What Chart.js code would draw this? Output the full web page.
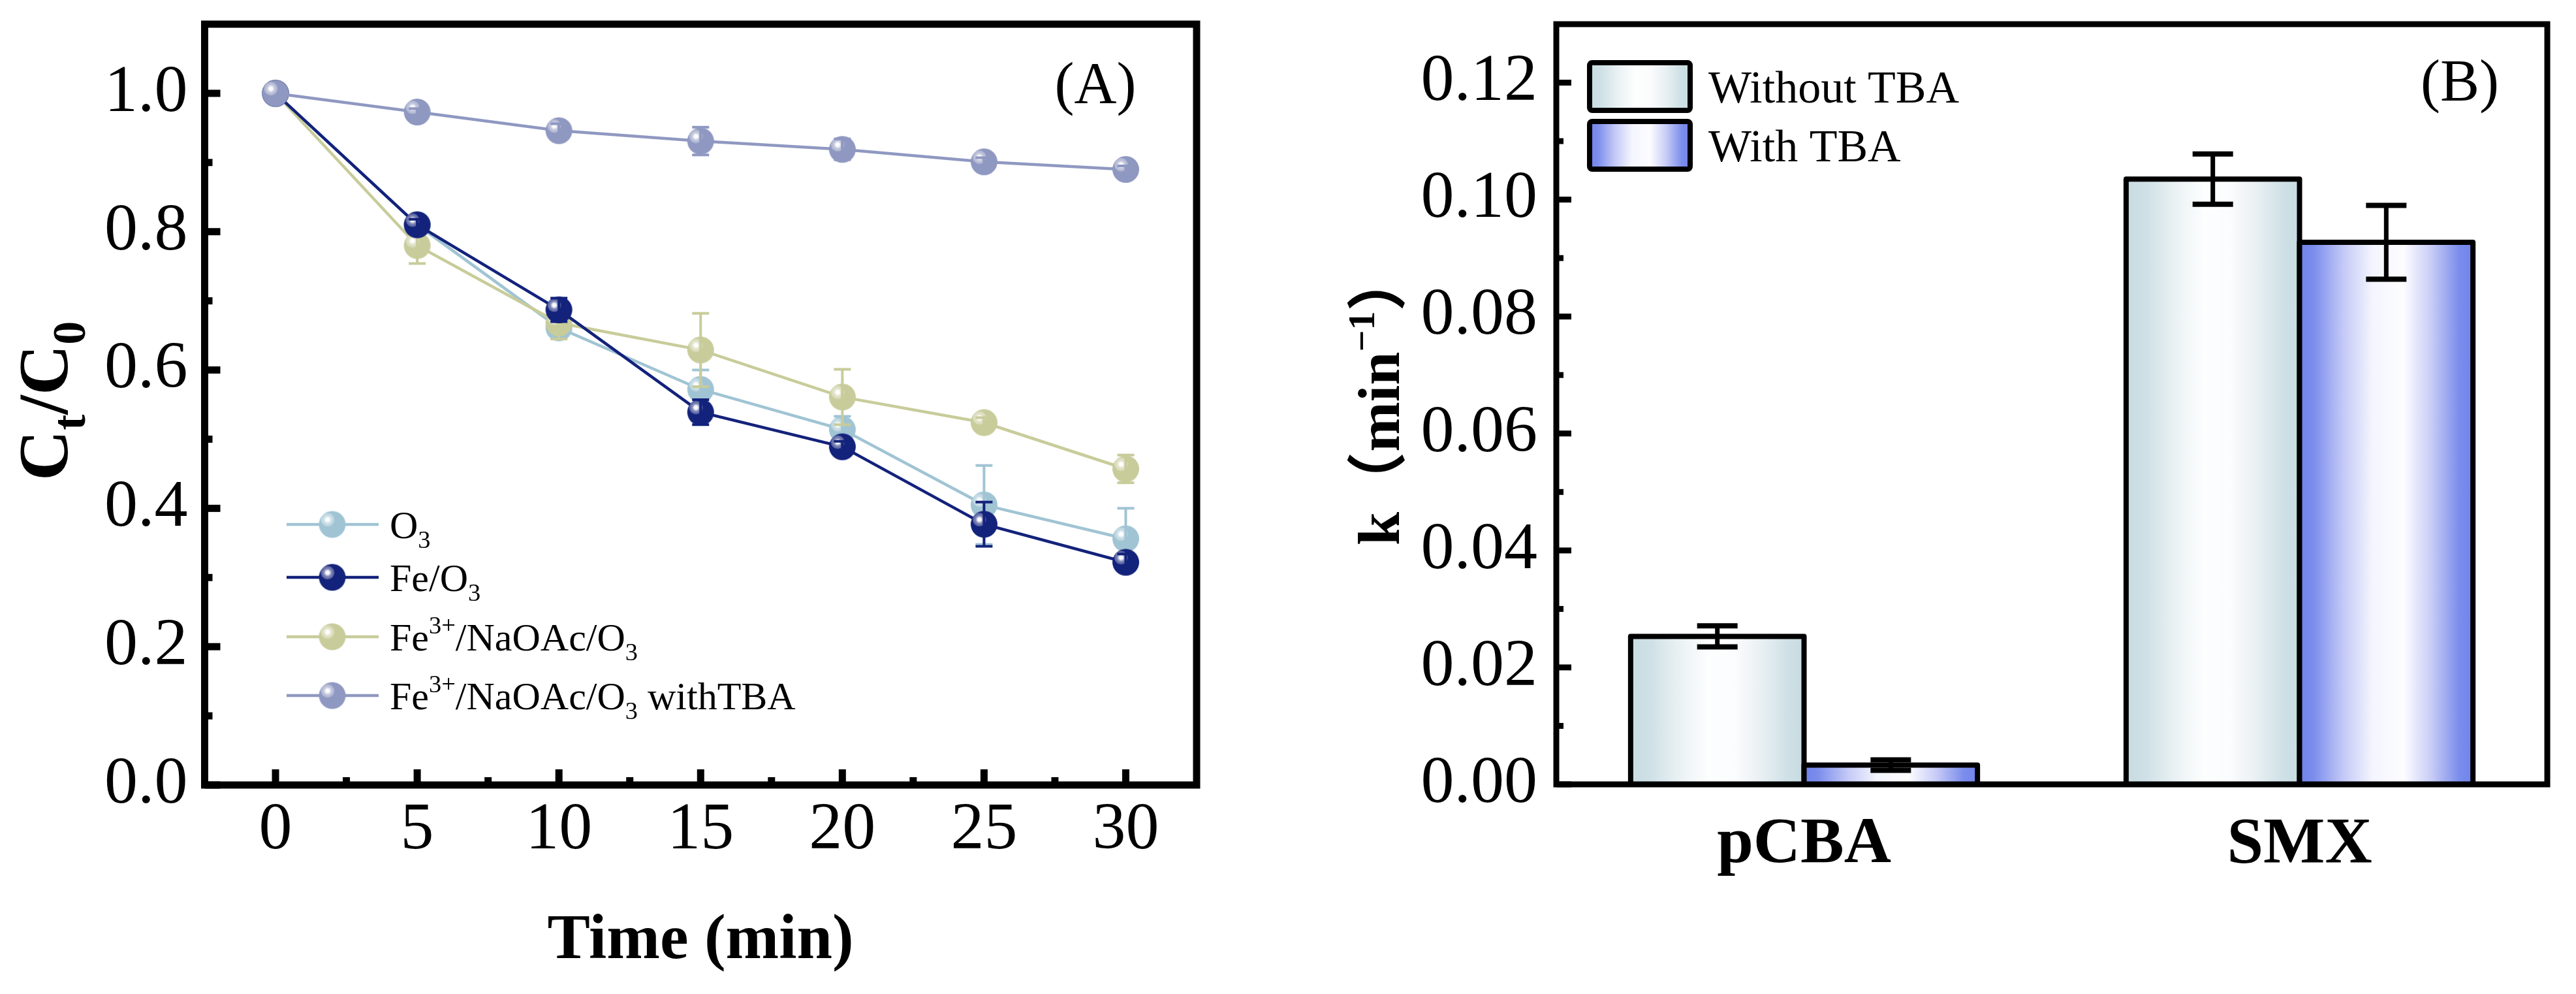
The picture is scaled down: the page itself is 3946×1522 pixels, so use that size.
<!DOCTYPE html>
<html><head><meta charset="utf-8">
<script src="https://cdn.jsdelivr.net/npm/chart.js@4.4.1/dist/chart.umd.min.js"></script>
<style>
html,body{margin:0;padding:0;background:#fff;width:3946px;height:1522px;overflow:hidden}
#wa{position:absolute;left:0;top:0;width:1973px;height:1522px}
#wb{position:absolute;left:1973px;top:0;width:1973px;height:1522px}
canvas{display:block}
</style></head><body>
<div id="wa"><canvas id="ca" width="1973" height="1522"></canvas></div>
<div id="wb"><canvas id="cb" width="1973" height="1522"></canvas></div>
<script>
// ---------- Panel A data ----------
const times = [0, 5, 10, 15, 20, 25, 30];
const o3 = [1.000, 0.810, 0.661, 0.572, 0.514, 0.405, 0.356];
const o3Err = [0, 0.008, 0.015, 0.028, 0.019, 0.057, 0.044];
const feO3 = [1.000, 0.810, 0.687, 0.539, 0.489, 0.377, 0.322];
const feO3Err = [0, 0.008, 0.017, 0.018, 0.008, 0.032, 0.012];
const feNaOAc = [1.000, 0.780, 0.668, 0.629, 0.561, 0.524, 0.457];
const feNaOAcErr = [0, 0.026, 0.023, 0.053, 0.040, 0.007, 0.020];
const feTBA = [1.000, 0.973, 0.946, 0.931, 0.919, 0.901, 0.890];
const feTBAErr = [0, 0.005, 0.010, 0.020, 0.015, 0.006, 0.005];
const timeTicks = [0, 5, 10, 15, 20, 25, 30];
const ratioTicks = [0, 0.2, 0.4, 0.6, 0.8, 1.0];
// legend label pieces: [text, role] role: '' normal, 'sub', 'sup'
const legendA = [
  [['O',''],['3','sub']],
  [['Fe/O',''],['3','sub']],
  [['Fe',''],['3+','sup'],['/NaOAc/O',''],['3','sub']],
  [['Fe',''],['3+','sup'],['/NaOAc/O',''],['3','sub'],[' withTBA','']]
];

// ---------- Panel B data ----------
const compounds = ['pCBA', 'SMX'];
const kWithout = [0.0253, 0.1035];
const kWithoutErr = [0.0018, 0.0043];
const kWith = [0.0033, 0.0927];
const kWithErr = [0.0009, 0.0063];
const kTicks = [0, 0.02, 0.04, 0.06, 0.08, 0.10, 0.12];
const barNames = ['Without TBA', 'With TBA'];

const SERIF = "'Liberation Serif','Times New Roman',serif";
const SERIF_CJK = "'Liberation Serif','Noto Sans CJK SC',serif";

function sphere(color, r) {
  const c = document.createElement('canvas');
  const s = Math.ceil(2 * r + 2); c.width = s; c.height = s;
  const g = c.getContext('2d'); const cx = s / 2, cy = s / 2;
  g.fillStyle = color; g.beginPath(); g.arc(cx, cy, r, 0, 2 * Math.PI); g.fill();
  const hx = cx - 0.35 * r, hy = cy - 0.35 * r;
  const rg = g.createRadialGradient(hx, hy, 0, hx, hy, 0.52 * r);
  rg.addColorStop(0, 'rgba(255,255,255,1)');
  rg.addColorStop(0.28, 'rgba(255,255,255,0.95)');
  rg.addColorStop(0.42, 'rgba(255,255,255,0.65)');
  rg.addColorStop(0.62, 'rgba(255,255,255,0.42)');
  rg.addColorStop(0.92, 'rgba(255,255,255,0.3)');
  rg.addColorStop(1, 'rgba(255,255,255,0)');
  g.fillStyle = rg; g.beginPath(); g.arc(cx, cy, r, 0, 2 * Math.PI); g.fill();
  return c;
}

function drawRich(ctx, pieces, x, y, base, bold, family) {
  let cx = x;
  for (const [t, role] of pieces) {
    let size = base, dy = 0;
    if (role === 'sub') { size = base * 0.64; dy = base * 0.25; }
    if (role === 'sup') { size = base * 0.64; dy = -base * 0.43; }
    ctx.font = (bold ? 'bold ' : '') + size + 'px ' + family;
    ctx.fillText(t, cx, y + dy);
    cx += ctx.measureText(t).width;
  }
  return cx - x;
}

function midpoints(arr) {
  const m = [];
  for (let i = 0; i < arr.length - 1; i++) m.push((arr[i] + arr[i + 1]) / 2);
  return m;
}

function zeroPad(s) { s.paddingTop = 0; s.paddingBottom = 0; s.paddingLeft = 0; s.paddingRight = 0; }

function frameTicks(o) {
  return {
    id: 'frameTicks',
    afterDraw(chart) {
      const { ctx, chartArea: a, scales } = chart;
      ctx.save();
      ctx.strokeStyle = '#000'; ctx.lineCap = 'butt';
      ctx.lineWidth = o.tickWidth;
      const line = (x1, y1, x2, y2) => { ctx.beginPath(); ctx.moveTo(x1, y1); ctx.lineTo(x2, y2); ctx.stroke(); };
      for (const v of o.yMajor) { const p = scales.y.getPixelForValue(v); line(a.left, p, a.left + o.major, p); }
      for (const v of o.yMinor) { const p = scales.y.getPixelForValue(v); line(a.left, p, a.left + o.minor, p); }
      for (const v of (o.xMajor || [])) { const p = scales.x.getPixelForValue(v); line(p, a.bottom, p, a.bottom - o.major); }
      for (const v of (o.xMinor || [])) { const p = scales.x.getPixelForValue(v); line(p, a.bottom, p, a.bottom - o.minor); }
      ctx.lineWidth = o.frameWidth;
      ctx.strokeRect(a.left, a.top, a.right - a.left, a.bottom - a.top);
      ctx.restore();
    }
  };
}

// ---------- Chart A ----------
const colA = { o3: '#a0c4d4', fe: '#13227b', nao: '#c8cc9a', tba: '#8f98c1' };
function lineDs(label, vals, errs, color, order) {
  return {
    label, errors: errs, order,
    data: times.map((t, i) => ({ x: t, y: vals[i] })),
    borderColor: color, backgroundColor: color, borderWidth: 4.5,
    pointStyle: sphere(color, 20.5), pointRadius: 20, tension: 0
  };
}
const errorBarsA = {
  id: 'errA',
  afterDatasetDraw(chart, args) {
    const ds = chart.data.datasets[args.index];
    const { ctx, scales } = chart;
    ctx.save(); ctx.strokeStyle = ds.borderColor; ctx.lineWidth = 4;
    ds.data.forEach((p, i) => {
      const e = ds.errors[i]; if (!e) return;
      const x = scales.x.getPixelForValue(p.x);
      const y1 = scales.y.getPixelForValue(p.y + e), y2 = scales.y.getPixelForValue(p.y - e);
      ctx.beginPath(); ctx.moveTo(x, y1); ctx.lineTo(x, y2);
      ctx.moveTo(x - 13, y1); ctx.lineTo(x + 13, y1);
      ctx.moveTo(x - 13, y2); ctx.lineTo(x + 13, y2); ctx.stroke();
    });
    ctx.restore();
  }
};
const decorA = {
  id: 'decorA',
  afterDraw(chart) {
    const ctx = chart.ctx;
    ctx.save(); ctx.fillStyle = '#000'; ctx.textBaseline = 'alphabetic'; ctx.textAlign = 'left';
    // legend
    const rows = [803, 884, 975, 1065];
    const order = [0, 1, 2, 3];
    order.forEach((di, k) => {
      const ds = chart.data.datasets[di];
      const y = rows[k];
      ctx.strokeStyle = ds.borderColor; ctx.lineWidth = 4.5;
      ctx.beginPath(); ctx.moveTo(439, y); ctx.lineTo(580, y); ctx.stroke();
      const img = ds.pointStyle;
      ctx.drawImage(img, 509 - img.width / 2, y - img.height / 2);
      ctx.fillStyle = '#000';
      drawRich(ctx, legendA[k], 597, y + 21, 60, false, SERIF);
    });
    // panel letter
    ctx.font = '90px ' + SERIF; ctx.textAlign = 'center'; ctx.textBaseline = 'middle';
    ctx.fillText('(A)', 1678, 134);
    // x title
    ctx.textBaseline = 'alphabetic';
    ctx.font = 'bold 98px ' + SERIF;
    ctx.fillText('Time (min)', 1073, 1467);
    // y title
    ctx.textAlign = 'left';
    ctx.translate(103, 736); ctx.rotate(-Math.PI / 2);
    let w = 0;
    ctx.font = 'bold 107px ' + SERIF; ctx.fillText('C', w, 0); w += ctx.measureText('C').width;
    ctx.font = 'bold 72px ' + SERIF; ctx.fillText('t', w, 27); w += ctx.measureText('t').width;
    ctx.font = 'bold 107px ' + SERIF; ctx.fillText('/C', w, 0); w += ctx.measureText('/C').width;
    ctx.font = 'bold 72px ' + SERIF; ctx.fillText('0', w, 27);
    ctx.restore();
  }
};

new Chart(document.getElementById('ca'), {
  type: 'line',
  data: {
    datasets: [
      lineDs('O3', o3, o3Err, colA.o3, 3),
      lineDs('Fe/O3', feO3, feO3Err, colA.fe, 1),
      lineDs('Fe3+/NaOAc/O3', feNaOAc, feNaOAcErr, colA.nao, 2),
      lineDs('Fe3+/NaOAc/O3 withTBA', feTBA, feTBAErr, colA.tba, 0)
    ]
  },
  options: {
    responsive: false, animation: false, devicePixelRatio: 1,
    layout: { padding: { left: 0, right: 140, top: 37, bottom: 0 } },
    plugins: { legend: { display: false }, tooltip: { enabled: false } },
    scales: {
      x: {
        type: 'linear', min: -2.5, max: 32.5,
        grid: { display: false, drawTicks: false }, border: { display: false },
        afterBuildTicks: s => { s.ticks = timeTicks.map(v => ({ value: v })); },
        afterFit: s => { s.height = 320; zeroPad(s); },
        ticks: { color: '#000', font: { family: SERIF, size: 102 }, padding: 9, maxRotation: 0, autoSkip: false,
          callback: v => String(v) }
      },
      y: {
        type: 'linear', min: 0, max: 1.1,
        grid: { display: false, drawTicks: false }, border: { display: false },
        afterBuildTicks: s => { s.ticks = ratioTicks.map(v => ({ value: v })); },
        afterFit: s => { s.width = 313.5; zeroPad(s); },
        ticks: { color: '#000', font: { family: SERIF, size: 102 }, padding: 26, autoSkip: false,
          callback: v => v.toFixed(1) }
      }
    }
  },
  plugins: [errorBarsA, frameTicks({ frameWidth: 11, tickWidth: 11, major: 24, minor: 12,
    yMajor: ratioTicks, yMinor: midpoints(ratioTicks), xMajor: timeTicks, xMinor: midpoints(timeTicks) }), decorA]
});

// ---------- Chart B ----------
const gradStops = [
  [[0, '#c7dbe1'], [0.12, '#cfe1e6'], [0.3, '#edf3f5'], [0.45, '#fdfefe'], [0.6, '#fbfcfd'], [0.76, '#e8eff2'], [0.9, '#cfe1e6'], [1, '#c7dbe1']],
  [[0, '#7083ea'], [0.08, '#7b8dec'], [0.25, '#c3c8f6'], [0.42, '#f4f5fe'], [0.6, '#fdfdff'], [0.76, '#c8ccf6'], [0.92, '#7b8dec'], [1, '#7083ea']]
];
function hGrad(ctx, x0, x1, stops) {
  const g = ctx.createLinearGradient(x0, 0, x1, 0);
  for (const [p, c] of stops) g.addColorStop(p, c);
  return g;
}
const barsB = {
  id: 'barsB',
  afterDatasetsDraw(chart) {
    const ctx = chart.ctx, ys = chart.scales.y;
    ctx.save();
    chart.data.datasets.forEach((ds, di) => {
      const meta = chart.getDatasetMeta(di);
      meta.data.forEach((el, i) => {
        const x0 = el.x - el.width / 2, x1 = el.x + el.width / 2;
        ctx.fillStyle = hGrad(ctx, x0, x1, gradStops[di]);
        ctx.fillRect(x0, el.y, el.width, el.base - el.y);
        ctx.strokeStyle = '#000'; ctx.lineWidth = 8; ctx.lineJoin = 'round';
        ctx.strokeRect(x0, el.y, el.width, el.base - el.y);
      });
    });
    chart.data.datasets.forEach((ds, di) => {
      const meta = chart.getDatasetMeta(di);
      meta.data.forEach((el, i) => {
        const v = ds.data[i], e = ds.errors[i];
        const y1 = ys.getPixelForValue(v + e), y2 = ys.getPixelForValue(v - e);
        ctx.strokeStyle = '#000'; ctx.lineWidth = 7;
        ctx.beginPath(); ctx.moveTo(el.x, y1); ctx.lineTo(el.x, y2); ctx.stroke();
        ctx.lineWidth = 8;
        ctx.beginPath(); ctx.moveTo(el.x - 31, y1); ctx.lineTo(el.x + 31, y1);
        ctx.moveTo(el.x - 31, y2); ctx.lineTo(el.x + 31, y2); ctx.stroke();
      });
    });
    ctx.restore();
  }
};
const decorB = {
  id: 'decorB',
  afterDraw(chart) {
    const ctx = chart.ctx;
    ctx.save();
    // legend
    const boxes = [96, 186];
    const bases = [157, 247];
    barNames.forEach((name, k) => {
      const x = 462, y = boxes[k], w = 154, h = 73;
      ctx.fillStyle = hGrad(ctx, x, x + w, gradStops[k]);
      ctx.beginPath(); ctx.roundRect(x, y, w, h, 4); ctx.fill();
      ctx.strokeStyle = '#000'; ctx.lineWidth = 8;
      ctx.beginPath(); ctx.roundRect(x, y, w, h, 4); ctx.stroke();
      ctx.fillStyle = '#000'; ctx.font = '70px ' + SERIF; ctx.textAlign = 'left'; ctx.textBaseline = 'alphabetic';
      ctx.fillText(name, 644, bases[k]);
    });
    ctx.font = '90px ' + SERIF; ctx.textAlign = 'center'; ctx.textBaseline = 'middle';
    ctx.fillText('(B)', 1795, 130);
    // y title
    ctx.textAlign = 'left'; ctx.textBaseline = 'alphabetic';
    ctx.translate(170, 835); ctx.rotate(-Math.PI / 2);
    let w = 0;
    const seg = (t, size, dy) => { ctx.font = 'bold ' + size + 'px ' + SERIF_CJK; ctx.fillText(t, w, dy); w += ctx.measureText(t).width; };
    seg('k', 92, 0); seg('（', 92, 0); seg('min', 92, 0); seg('−1', 58, -38); seg('）', 92, 0);
    ctx.restore();
  }
};

new Chart(document.getElementById('cb'), {
  type: 'bar',
  data: {
    labels: compounds,
    datasets: [
      { label: barNames[0], data: kWithout, errors: kWithoutErr, backgroundColor: '#c7dbe1', borderWidth: 0, barPercentage: 1, categoryPercentage: 0.7 },
      { label: barNames[1], data: kWith, errors: kWithErr, backgroundColor: '#7083ea', borderWidth: 0, barPercentage: 1, categoryPercentage: 0.7 }
    ]
  },
  options: {
    responsive: false, animation: false, devicePixelRatio: 1,
    layout: { padding: { left: 0, right: 44, top: 37, bottom: 0 } },
    plugins: { legend: { display: false }, tooltip: { enabled: false } },
    scales: {
      x: {
        type: 'category', offset: true,
        grid: { display: false, drawTicks: false }, border: { display: false },
        afterFit: s => { s.height = 321; zeroPad(s); },
        ticks: { color: '#000', font: { family: SERIF, size: 100, weight: 'bold' }, padding: 33, maxRotation: 0 }
      },
      y: {
        type: 'linear', min: 0, max: 0.13,
        grid: { display: false, drawTicks: false }, border: { display: false },
        afterBuildTicks: s => { s.ticks = kTicks.map(v => ({ value: v })); },
        afterFit: s => { s.width = 411; zeroPad(s); },
        ticks: { color: '#000', font: { family: SERIF, size: 102 }, padding: 29, autoSkip: false,
          callback: v => v.toFixed(2) }
      }
    }
  },
  plugins: [barsB, frameTicks({ frameWidth: 9, tickWidth: 9, major: 23, minor: 11,
    yMajor: kTicks, yMinor: midpoints(kTicks) }), decorB]
});
</script>
</body></html>
